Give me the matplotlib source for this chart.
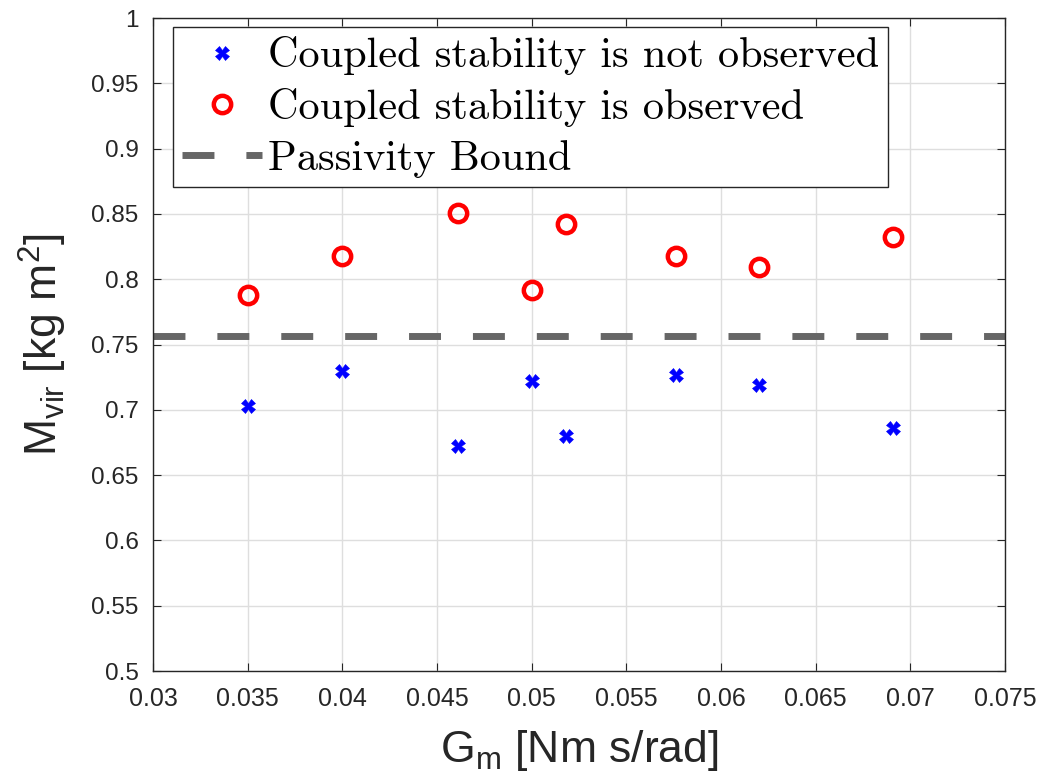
import numpy as np
import matplotlib
matplotlib.use('Agg')
import matplotlib.pyplot as plt
from matplotlib.lines import Line2D

# controller gain [Nm s/rad]
gain_unstable = [0.035, 0.040, 0.0461, 0.050, 0.0518, 0.0576, 0.0620, 0.0691]
mass_unstable = [0.703, 0.730, 0.672, 0.722, 0.680, 0.727, 0.719, 0.686]

gain_stable = [0.035, 0.040, 0.0461, 0.050, 0.0518, 0.0576, 0.0620, 0.0691]
mass_stable = [0.788, 0.818, 0.851, 0.792, 0.842, 0.818, 0.809, 0.832]

passivity_bound = 0.7565

legend_labels = ['Coupled stability is not observed', 'Coupled stability is observed', 'Passivity Bound']

x_ticks = [0.03, 0.035, 0.04, 0.045, 0.05, 0.055, 0.06, 0.065, 0.07, 0.075]
x_ticklabels = ['0.03', '0.035', '0.04', '0.045', '0.05', '0.055', '0.06', '0.065', '0.07', '0.075']
y_ticks = [0.5, 0.55, 0.6, 0.65, 0.7, 0.75, 0.8, 0.85, 0.9, 0.95, 1.0]
y_ticklabels = ['0.5', '0.55', '0.6', '0.65', '0.7', '0.75', '0.8', '0.85', '0.9', '0.95', '1']

plt.rcParams['font.family'] = ['Liberation Sans', 'DejaVu Sans']
plt.rcParams['mathtext.fontset'] = 'custom'
plt.rcParams['mathtext.rm'] = 'Liberation Sans'
plt.rcParams['mathtext.default'] = 'regular'

dark = '#262626'
bound_color = '#666666'
dash = (4.6, 4.6)

fig = plt.figure(figsize=(10.42, 7.84), dpi=100)
ax = fig.add_axes([0.1468, 0.1441, 0.8177, 0.8329])

ax.plot(gain_unstable, mass_unstable, linestyle='none', marker='X', markersize=10,
        color='blue', markeredgewidth=0.4, zorder=3)
ax.plot(gain_stable, mass_stable, linestyle='none', marker='o', markersize=12.5,
        markerfacecolor='none', markeredgecolor='red', markeredgewidth=3.2, zorder=3)
ax.axhline(passivity_bound, color=bound_color, linewidth=5, dashes=dash, zorder=2)

ax.set_xlim(0.03, 0.075)
ax.set_ylim(0.5, 1.0)
ax.set_xticks(x_ticks)
ax.set_xticklabels(x_ticklabels, fontsize=18)
ax.set_yticks(y_ticks)
ax.set_yticklabels(y_ticklabels, fontsize=17.5)
ax.tick_params(direction='in', length=6, width=0.8, colors=dark, top=True, right=True)
ax.tick_params(axis='x', pad=11.5)
ax.tick_params(axis='y', pad=10.5)
ax.grid(True, color='#dedede', linewidth=1)
ax.set_axisbelow(True)
for sp in ax.spines.values():
    sp.set_color(dark)
    sp.set_linewidth(1)

ax.set_xlabel('G$_{m}$ [Nm s/rad]', fontsize=32, color=dark, labelpad=12)
ax.set_ylabel('M$_{vir}$ [kg m$^{2}$]', fontsize=32, color=dark, labelpad=16)

# legend drawn in a TeX-like serif face
h1 = Line2D([], [], linestyle='none', marker='X', markersize=10, color='blue', markeredgewidth=0.4)
h2 = Line2D([], [], linestyle='none', marker='o', markersize=12.5, markerfacecolor='none',
            markeredgecolor='red', markeredgewidth=3.2)
h3 = Line2D([], [], color=bound_color, linewidth=5, dashes=dash)
leg = ax.legend([h1, h2, h3], legend_labels,
                loc='upper left', bbox_to_anchor=(0.0235, 0.986),
                prop={'family': ['cmr10', 'DejaVu Serif'], 'size': 30.5},
                frameon=True, fancybox=False, edgecolor=dark, framealpha=1,
                handlelength=1.87, handletextpad=0.15,
                borderpad=0.22, labelspacing=0.3, borderaxespad=0)
leg.get_frame().set_linewidth(1)

fig.savefig('out.png', dpi=100)
